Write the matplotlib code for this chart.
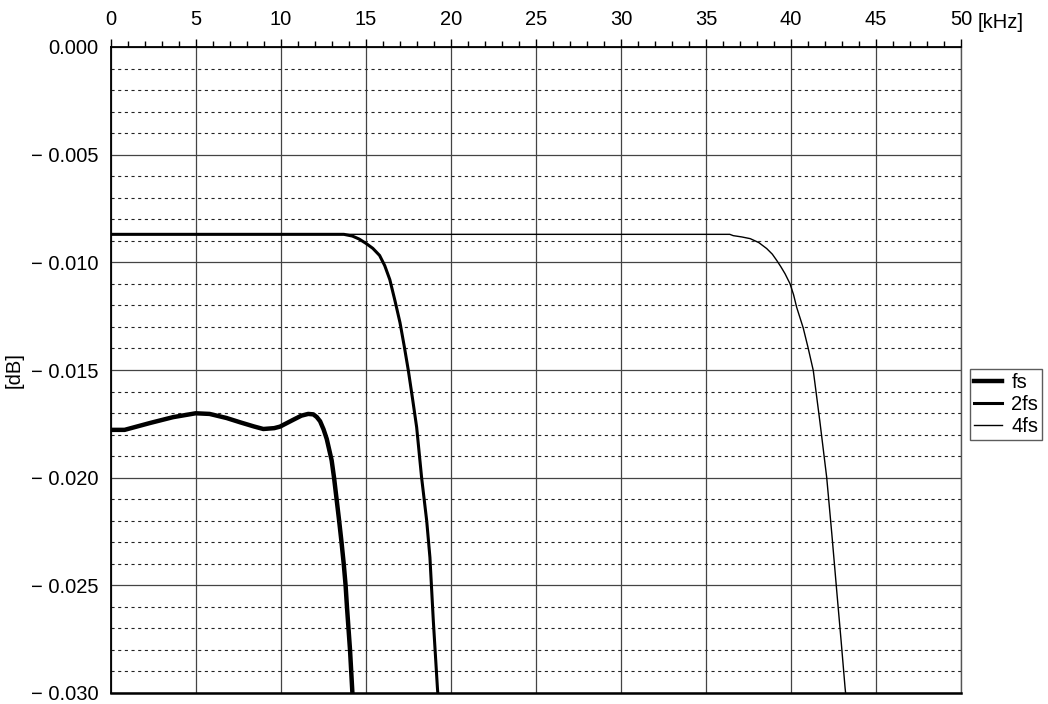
import matplotlib
matplotlib.use("Agg")
import matplotlib.pyplot as plt
from matplotlib.ticker import MultipleLocator, FixedLocator
from matplotlib.lines import Line2D

plt.rcParams['font.family'] = ['Liberation Sans', 'DejaVu Sans']

# ---- data ----
fs_x = [0, 0.8, 2.3, 3.65, 4.98, 5.8, 6.8, 7.6, 8.4, 8.96, 9.6, 9.94, 10.7, 11.2, 11.6,
        11.9, 12.1, 12.3, 12.5, 12.69, 12.85, 12.98, 13.12, 13.27, 13.42, 13.56, 13.69,
        13.8, 13.88, 13.97, 14.06, 14.13, 14.2, 14.22]
fs_y = [-0.01778, -0.01778, -0.01746, -0.01719, -0.01701, -0.01704, -0.01723, -0.01743,
        -0.01762, -0.01774, -0.01770, -0.01763, -0.01732, -0.01712, -0.01704,
        -0.01706, -0.01718, -0.01738, -0.01775, -0.0182, -0.01875, -0.0192, -0.0200,
        -0.0210, -0.0220, -0.0230, -0.0240, -0.0250, -0.0260, -0.0270, -0.0280,
        -0.0290, -0.0300, -0.0303]

fs2_x = [0, 13.7, 14.2, 14.6, 15.0, 15.4, 15.8, 16.1, 16.4, 16.7, 17.0, 17.25, 17.49,
         17.75, 17.98, 18.27, 18.57, 18.76, 18.96, 19.2, 19.25]
fs2_y = [-0.0087, -0.0087, -0.00878, -0.00892, -0.00912, -0.00935, -0.00968, -0.01015,
         -0.0108, -0.01177, -0.0128, -0.0139, -0.01502, -0.0164, -0.01766, -0.01999,
         -0.022, -0.0237, -0.02665, -0.02975, -0.0303]

fs4_x = [0, 36.4, 36.6, 37.1, 37.6, 38.1, 38.57, 38.9, 39.16, 39.4, 39.65, 39.94, 40.15,
         40.33, 40.72, 41.0, 41.31, 41.7, 42.1, 42.4, 42.69, 42.95, 43.18, 43.25]
fs4_y = [-0.0087, -0.0087, -0.00876, -0.00882, -0.0089, -0.00908, -0.00936, -0.00962,
         -0.00991, -0.0102, -0.01053, -0.01099, -0.0115, -0.01208, -0.01305, -0.01395,
         -0.01502, -0.0174, -0.01999, -0.0226, -0.02526, -0.0276, -0.02975, -0.0303]

series_labels = ['fs', '2fs', '4fs']
x_ticks = [0, 5, 10, 15, 20, 25, 30, 35, 40, 45, 50]
y_ticks = [0.0, -0.005, -0.010, -0.015, -0.020, -0.025, -0.030]
y_tick_labels = ['0.000', '\u2212 0.005', '\u2212 0.010', '\u2212 0.015',
                 '\u2212 0.020', '\u2212 0.025', '\u2212 0.030']

FS = 14.5

fig = plt.figure(figsize=(10.48, 7.04), dpi=100)
ax = fig.add_axes([111/1048, 1 - 693/704, 850/1048, 646/704])

ax.set_xlim(0, 50)
ax.set_ylim(-0.030, 0.0)

# grid
ax.xaxis.set_major_locator(FixedLocator(x_ticks))
ax.xaxis.set_minor_locator(MultipleLocator(1))
ax.yaxis.set_major_locator(FixedLocator(y_ticks))
ax.yaxis.set_minor_locator(MultipleLocator(0.001))
ax.grid(which='major', axis='both', color='#444444', lw=0.9)
ax.grid(which='minor', axis='y', color='#222222', lw=0.8, linestyle=(0, (2.8, 3.2)))
ax.set_axisbelow(True)

lw = [3.2, 2.2, 1.0]
ax.plot(fs4_x, fs4_y, color='black', lw=lw[2], solid_capstyle='butt')
ax.plot(fs2_x, fs2_y, color='black', lw=lw[1], solid_capstyle='butt')
ax.plot(fs_x, fs_y, color='black', lw=lw[0], solid_capstyle='round')

# ticks / labels
ax.xaxis.tick_top()
ax.tick_params(axis='x', which='major', direction='out', length=6, width=1, pad=7,
               labelsize=FS, top=True, bottom=False)
ax.tick_params(axis='x', which='minor', direction='out', length=4, width=1,
               top=True, bottom=False)
ax.set_xticklabels([str(v) for v in x_ticks])
ax.tick_params(axis='y', which='both', length=0, pad=9, labelsize=FS)
ax.set_yticklabels(y_tick_labels)

ax.text(978/1048, 1 - 22/704, '[kHz]', transform=fig.transFigure, fontsize=FS,
        ha='left', va='center')
fig.text(14/1048, 1 - 370/704, '[dB]', rotation=90, fontsize=FS,
         ha='center', va='center')

for s in ['top', 'left']:
    ax.spines[s].set_linewidth(1.3)
ax.spines['bottom'].set_linewidth(1.8)
ax.spines['right'].set_color('#555555')
ax.spines['right'].set_linewidth(1.0)

handles = [Line2D([], [], color='black', lw=w) for w in lw]
leg = fig.legend(handles, series_labels, loc='upper left',
                 bbox_to_anchor=(970/1048, 1 - 369/704), fontsize=FS,
                 frameon=True, fancybox=False, edgecolor='#333333',
                 handlelength=1.4, handletextpad=0.45, borderpad=0.2,
                 labelspacing=0.15, borderaxespad=0)
leg.get_frame().set_linewidth(1.0)

fig.savefig('out.png', dpi=100)
